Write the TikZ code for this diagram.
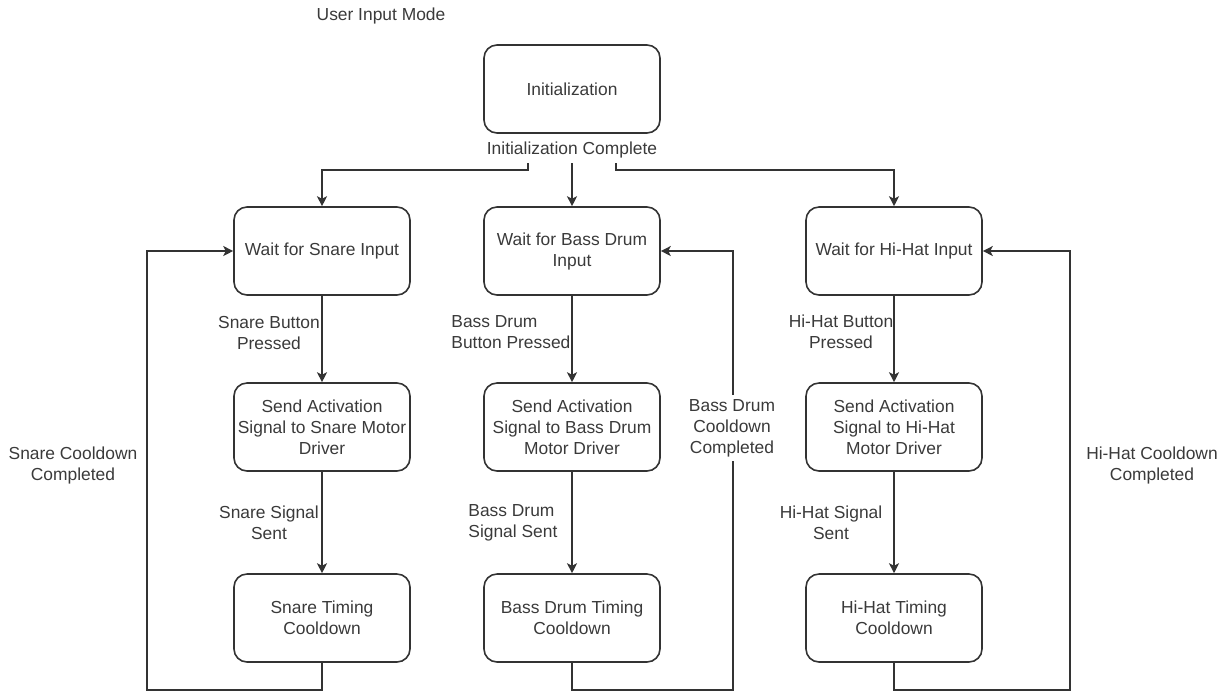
\documentclass[tikz,border=0pt]{standalone}
\usepackage{fontspec}
\setmainfont{Liberation Sans}
\usetikzlibrary{arrows.meta}
\definecolor{linecol}{HTML}{333333}
\definecolor{textcol}{HTML}{3A3A3A}
\begin{document}
\begin{tikzpicture}[x=0.5pt,y=-0.5pt,
  every node/.style={font=\fontsize{8.7pt}{10.5pt}\selectfont, text=textcol},
  state/.style={draw=linecol, line width=0.8pt, rounded corners=6.5pt,
    minimum width=88pt, minimum height=44pt, align=center, inner sep=1pt},
  lbl/.style={align=center, inner sep=1pt},
  lbll/.style={align=left, inner sep=0pt, anchor=west},
  arr/.style={draw=linecol, line width=0.8pt, -{Stealth[length=5pt,width=5pt,inset=1.3pt]}},
  ln/.style={draw=linecol, line width=0.8pt}]
\useasboundingbox (0,0) rectangle (1229,692);

\node[lbl] (mode) at (381,16) {User Input Mode};

\node[state] (init) at (572,89) {Initialization};
\node[lbl, anchor=south, inner sep=2pt] (initc) at (572,163) {Initialization Complete};

% row 1
\node[state] (w1) at (322,251) {Wait for Snare Input};
\node[state] (w2) at (572,251) {Wait for Bass Drum\\Input};
\node[state] (w3) at (894,251) {Wait for Hi-Hat Input};
% row 2
\node[state] (a1) at (322,427) {Send Activation\\Signal to Snare Motor\\Driver};
\node[state] (a2) at (572,427) {Send Activation\\Signal to Bass Drum\\Motor Driver};
\node[state] (a3) at (894,427) {Send Activation\\Signal to Hi-Hat\\Motor Driver};
% row 3
\node[state] (t1) at (322,618) {Snare Timing\\Cooldown};
\node[state] (t2) at (572,618) {Bass Drum Timing\\Cooldown};
\node[state] (t3) at (894,618) {Hi-Hat Timing\\Cooldown};

% from initialization
\draw[arr] ([xshift=-22pt]initc.south) -- ++(0,7) -| (w1);
\draw[arr] (initc.south) -- (w2);
\draw[arr] ([xshift=22pt]initc.south) -- ++(0,7) -| (w3);

% vertical transitions
\draw[arr] (w1) -- (a1);
\draw[arr] (a1) -- (t1);
\draw[arr] (w2) -- (a2);
\draw[arr] (a2) -- (t2);
\draw[arr] (w3) -- (a3);
\draw[arr] (a3) -- (t3);

% loops back
\coordinate (c1) at (147,690);
\coordinate (c2) at (733,690);
\coordinate (c3) at (1070,690);
\draw[arr] (t1.south) |- (c1) |- (w1.west);
\draw[arr] (t2.south) |- (c2) |- (w2.east);
\draw[arr] (t3.south) |- (c3) |- (w3.east);

% labels
\node[lbl] (l1) at (269,333) {Snare Button\\Pressed};
\node[lbl] (l2) at (269,523) {Snare Signal\\Sent};
\node[lbll] (l3) at (451,332) {Bass Drum\\Button Pressed};
\node[lbll] (l4) at (468,523) {Bass Drum\\Signal Sent};
\node[lbl] (l5) at (841,332) {Hi-Hat Button\\Pressed};
\node[lbl] (l6) at (831,523) {Hi-Hat Signal\\Sent};
\node[lbl, fill=white, inner sep=2pt] (l7) at (732,428) {Bass Drum\\Cooldown\\Completed};
\node[lbl] (l8) at (73,465) {Snare Cooldown\\Completed};
\node[lbl] (l9) at (1152,465) {Hi-Hat Cooldown\\Completed};
\end{tikzpicture}
\end{document}
